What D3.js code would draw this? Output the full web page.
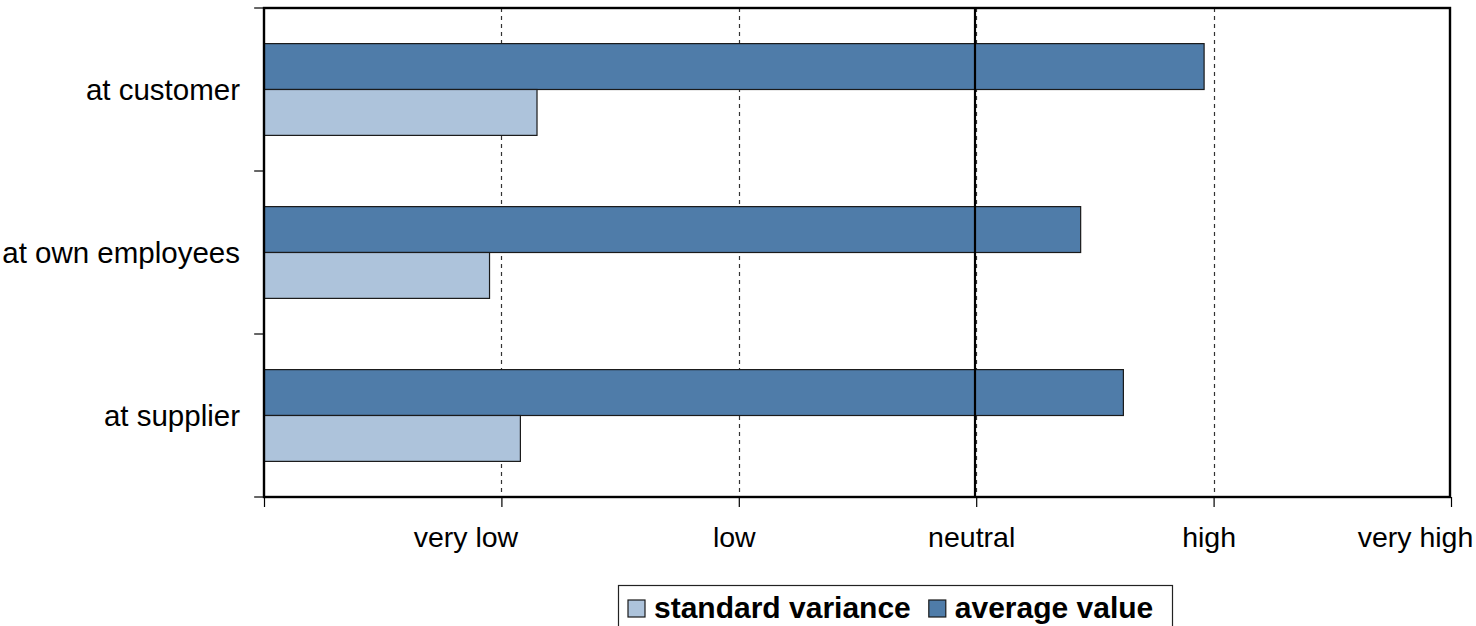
<!DOCTYPE html>
<html>
<head>
<meta charset="utf-8">
<script src="https://cdn.jsdelivr.net/npm/d3@7"></script>
<style>
  html, body { margin: 0; padding: 0; background: #fff; }
  svg { display: block; font-family: "Liberation Sans", Arial, sans-serif; }
</style>
</head>
<body>
<svg id="chart" width="1476" height="626"></svg>
<script>
// Rating per area: mean value and its standard variance on a 0..5 scale
const categories = ["at customer", "at own employees", "at supplier"];
const averageValue = [3.96, 3.44, 3.62];
const standardVariance = [1.15, 0.95, 1.08];
const scaleLabels = ["", "very low", "low", "neutral", "high", "very high"];
const scaleValues = [0, 1, 2, 3, 4, 5];
const seriesNames = ["standard variance", "average value"];
const neutralValue = 3;

const colors = { "average value": "#4f7ca9", "standard variance": "#adc3db" };

const svg = d3.select("#chart");
const plotLeft = 264, plotRight = 1451, plotTop = 8, plotBottom = 497;

const x = d3.scaleLinear().domain([0, 5]).range([plotLeft, plotRight]);
const y = d3.scaleBand().domain(categories).range([plotTop, plotBottom])
  .paddingInner(0.437).paddingOuter(0.2185);
const ySub = d3.scaleBand().domain(["average value", "standard variance"])
  .range([0, y.bandwidth()]);

const rows = categories.map((c, i) => ({
  category: c,
  values: [
    { key: "average value", value: averageValue[i] },
    { key: "standard variance", value: standardVariance[i] }
  ]
}));

// dashed vertical gridlines
svg.append("g").selectAll("line")
  .data(scaleValues.slice(1, 5))
  .join("line")
  .attr("x1", d => Math.round(x(d)) + 0.5)
  .attr("x2", d => Math.round(x(d)) + 0.5)
  .attr("y1", plotTop).attr("y2", plotBottom)
  .attr("stroke", "#333").attr("stroke-width", 1.2)
  .attr("stroke-dasharray", "4,4");

// bars
svg.append("g").selectAll("g")
  .data(rows)
  .join("g")
  .attr("transform", d => `translate(0,${y(d.category)})`)
  .selectAll("rect")
  .data(d => d.values)
  .join("rect")
  .attr("x", x(0))
  .attr("y", d => ySub(d.key))
  .attr("width", d => x(d.value) - x(0))
  .attr("height", ySub.bandwidth())
  .attr("fill", d => colors[d.key])
  .attr("stroke", "#1a1a1a").attr("stroke-width", 1.2);

// solid reference line at neutral
svg.append("line")
  .attr("x1", Math.round(x(neutralValue)) - 1)
  .attr("x2", Math.round(x(neutralValue)) - 1)
  .attr("y1", plotTop).attr("y2", plotBottom)
  .attr("stroke", "#000").attr("stroke-width", 2.2);

// plot frame
svg.append("rect")
  .attr("x", plotLeft).attr("y", plotTop)
  .attr("width", plotRight - plotLeft - 1).attr("height", plotBottom - plotTop)
  .attr("fill", "none").attr("stroke", "#000").attr("stroke-width", 2.4);

// x axis ticks and labels
const xAxis = d3.axisBottom(x)
  .tickValues(scaleValues)
  .tickSize(10)
  .tickFormat(d => scaleLabels[d]);
const gx = svg.append("g").attr("transform", `translate(0,${plotBottom})`).call(xAxis);
gx.select(".domain").remove();
gx.selectAll(".tick line").attr("stroke", "#000").attr("stroke-width", 1.2);
gx.selectAll(".tick text")
  .attr("font-size", 28.5)
  .attr("font-family", "Liberation Sans, Arial, sans-serif")
  .attr("fill", "#000")
  .attr("y", 29)
  .attr("dy", "0.72em")
  .attr("dx", d => (scaleLabels[d].includes(" ") ? -36 : -5));

// y axis ticks at category boundaries
const boundaries = [plotTop].concat(categories.map(c => y(c) + y.bandwidth() + y.step() * y.paddingInner() / 2));
boundaries[boundaries.length - 1] = plotBottom;
svg.append("g").selectAll("line")
  .data(boundaries)
  .join("line")
  .attr("x1", plotLeft - 10).attr("x2", plotLeft)
  .attr("y1", d => d).attr("y2", d => d)
  .attr("stroke", "#000").attr("stroke-width", 1.2);

// category labels
svg.append("g").selectAll("text")
  .data(categories)
  .join("text")
  .attr("x", 240)
  .attr("y", d => y(d) + y.bandwidth() / 2)
  .attr("dy", "0.35em")
  .attr("text-anchor", "end")
  .attr("font-size", 29.5)
  .attr("fill", "#000")
  .text(d => d);

// legend
const legend = svg.append("g");
legend.append("rect")
  .attr("x", 618.5).attr("y", 585.5)
  .attr("width", 554).attr("height", 60)
  .attr("fill", "#fff").attr("stroke", "#222").attr("stroke-width", 1.2);

let lx = 628;
seriesNames.forEach(name => {
  legend.append("rect")
    .attr("x", lx).attr("y", 600)
    .attr("width", 17).attr("height", 17)
    .attr("fill", colors[name])
    .attr("stroke", "#1a1a1a").attr("stroke-width", 1.2);
  const t = legend.append("text")
    .attr("x", lx + 17 + 9)
    .attr("y", 618)
    .attr("font-size", 30)
    .attr("font-weight", "bold")
    .attr("fill", "#000")
    .text(name);
  lx = lx + 26 + t.node().getComputedTextLength() + 18;
});
</script>
</body>
</html>
